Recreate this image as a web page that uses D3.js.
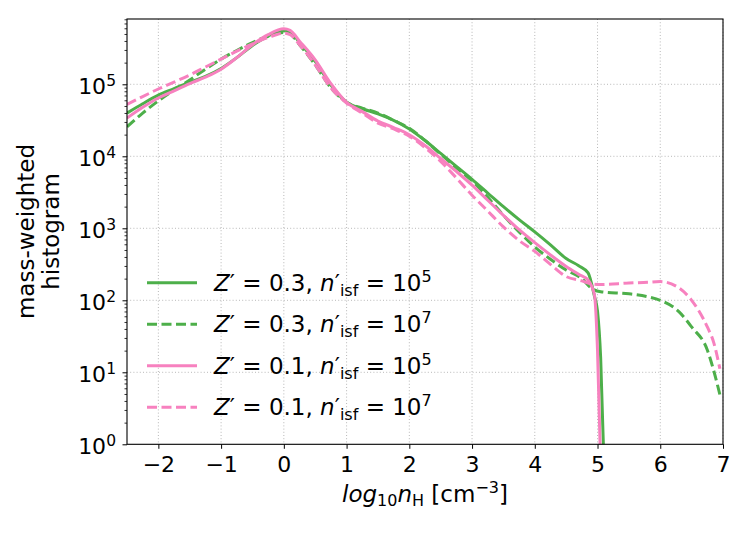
<!DOCTYPE html>
<html><head><meta charset="utf-8">
<script src="https://cdn.jsdelivr.net/npm/d3@7"></script>
<style>body{margin:0;background:#fff} text{font-family:"DejaVu Sans",sans-serif;fill:#000}</style>
</head><body><svg id="c" width="747" height="534"></svg>
<script>
// x values: log10 n_H [cm^-3]
const xSolid = [-2.5,-2.25,-2,-1.75,-1.5,-1.25,-1,-0.75,-0.5,-0.25,0,0.1,0.25,0.5,0.75,1,1.25,1.5,1.75,2,2.25,2.5,2.75,3,3.25,3.5,3.75,4,4.25,4.5,4.7,4.85,4.95,5.0,5.05,5.1];
const xDashed = [-2.5,-2.25,-2,-1.75,-1.5,-1.25,-1,-0.75,-0.5,-0.25,0,0.1,0.25,0.5,0.75,1,1.25,1.5,1.75,2,2.25,2.5,2.75,3,3.25,3.5,3.75,4,4.25,4.5,4.75,4.9,5.05,5.5,5.8,6,6.3,6.5,6.75,6.85,6.95];
// series values, stored as log10(mass-weighted histogram)
const z03_n5 = [4.60,4.73,4.85,4.94,5.03,5.11,5.22,5.37,5.54,5.67,5.745,5.73,5.58,5.32,4.99,4.75,4.66,4.59,4.50,4.38,4.22,4.04,3.86,3.68,3.49,3.30,3.12,2.95,2.77,2.58,2.48,2.38,2.06,1.85,1.2,-0.2];
const z03_n7 = [4.41,4.60,4.77,4.92,5.06,5.21,5.35,5.47,5.58,5.67,5.72,5.70,5.55,5.27,4.95,4.75,4.67,4.60,4.50,4.39,4.22,4.03,3.84,3.66,3.43,3.18,2.95,2.74,2.57,2.42,2.30,2.17,2.12,2.09,2.05,2.00,1.84,1.63,1.31,1.03,0.69];
const z01_n5 = [4.53,4.68,4.81,4.91,5.01,5.10,5.21,5.37,5.55,5.69,5.77,5.75,5.60,5.34,5.01,4.75,4.62,4.49,4.40,4.30,4.15,3.97,3.79,3.60,3.39,3.18,2.98,2.80,2.63,2.47,2.36,2.28,2.08,1.3,-0.3,-1.0];
const z01_n7 = [4.72,4.83,4.935,5.03,5.13,5.24,5.35,5.46,5.56,5.65,5.71,5.69,5.55,5.27,4.95,4.74,4.60,4.46,4.38,4.28,4.12,3.93,3.70,3.46,3.24,3.02,2.83,2.68,2.50,2.33,2.27,2.23,2.22,2.24,2.25,2.26,2.17,2.00,1.63,1.42,1.05];
const xTicks = [-2,-1,0,1,2,3,4,5,6,7];
const yTickExp = [0,1,2,3,4,5];
const legendZ = ["0.3","0.3","0.1","0.1"];
const legendN = ["5","7","5","7"];

const svg = d3.select("#c");
const L=127, R=723, T=19, B=444.3;
const FS=22, FL=23;
const x = d3.scaleLinear().domain([-2.5,7]).range([L,R]);
const y = d3.scaleLog().domain([1, Math.pow(10,5.907)]).range([B,T]);

// grid
const g = svg.append("g");
g.selectAll(".gx").data(xTicks).enter().append("line")
  .attr("x1",d=>x(d)).attr("x2",d=>x(d)).attr("y1",T).attr("y2",B)
  .attr("stroke","#b0b0b0").attr("stroke-width",0.9).attr("stroke-dasharray","1,2.2");
g.selectAll(".gy").data(yTickExp.filter(e=>e>0)).enter().append("line")
  .attr("x1",L).attr("x2",R).attr("y1",d=>y(Math.pow(10,d))).attr("y2",d=>y(Math.pow(10,d)))
  .attr("stroke","#b0b0b0").attr("stroke-width",0.9).attr("stroke-dasharray","1,2.2");

// clip
svg.append("clipPath").attr("id","clip").append("rect").attr("x",L).attr("y",T).attr("width",R-L).attr("height",B-T);

const series = [
  {xs:xSolid, v:z03_n5, color:"#4daf4a", dash:null},
  {xs:xDashed, v:z03_n7, color:"#4daf4a", dash:"10,4.5"},
  {xs:xSolid, v:z01_n5, color:"#f781bf", dash:null},
  {xs:xDashed, v:z01_n7, color:"#f781bf", dash:"10,4.5"}
];
const line = d3.line().x(d=>x(d[0])).y(d=>y(d[1])).curve(d3.curveMonotoneX);
const pl = svg.append("g").attr("clip-path","url(#clip)");
series.forEach(s=>{
  const pts = s.xs.map((xx,i)=>[xx, Math.pow(10,s.v[i])]);
  pl.append("path").attr("d",line(pts)).attr("fill","none").attr("stroke",s.color)
    .attr("stroke-width",3).attr("stroke-dasharray",s.dash).attr("stroke-linejoin","round");
});

// axes
const ax = svg.append("g").attr("transform",`translate(0,${B})`)
  .call(d3.axisBottom(x).tickValues(xTicks).tickSize(4.5).tickPadding(8).tickFormat(d=>d<0?"\u2212"+Math.abs(d):d));
ax.select(".domain").remove();
ax.selectAll("text").attr("font-size",FS).attr("font-family","DejaVu Sans").attr("fill","#000");
ax.selectAll("line").attr("stroke","#000").attr("stroke-width",1);

const ay = svg.append("g").attr("transform",`translate(${L},0)`)
  .call(d3.axisLeft(y).tickValues(yTickExp.map(e=>Math.pow(10,e))).tickSize(4.5).tickFormat(""));
ay.select(".domain").remove();
ay.selectAll("line").attr("stroke","#000").attr("stroke-width",1);
const minor=[];
for(let e=0;e<6;e++) for(let k=2;k<10;k++){const v=k*Math.pow(10,e); if(v<=Math.pow(10,5.907)) minor.push(v);}
const aym = svg.append("g").attr("transform",`translate(${L},0)`)
  .call(d3.axisLeft(y).tickValues(minor).tickSize(2.5).tickFormat(""));
aym.select(".domain").remove();
aym.selectAll("line").attr("stroke","#000").attr("stroke-width",0.8);

yTickExp.forEach(e=>{
  const t = svg.append("text").attr("x",116).attr("y",y(Math.pow(10,e))+10).attr("text-anchor","end").attr("font-size",FS);
  t.append("tspan").text("10");
  t.append("tspan").attr("font-size",15.5).attr("dy",-8.5).text(e);
});

// frame
svg.append("rect").attr("x",L).attr("y",T).attr("width",R-L).attr("height",B-T)
  .attr("fill","none").attr("stroke","#000").attr("stroke-width",1.1);

// legend
legendZ.forEach((z,i)=>{
  const yy = 282.7 + i*41.5;
  const s = series[i];
  svg.append("line").attr("x1",147).attr("x2",197).attr("y1",yy).attr("y2",yy)
    .attr("stroke",s.color).attr("stroke-width",3).attr("stroke-dasharray",s.dash);
  const t = svg.append("text").attr("x",214).attr("y",yy+8).attr("font-size",FL);
  t.append("tspan").attr("font-style","italic").text("Z");
  t.append("tspan").text("\u2032");
  t.append("tspan").text(" = "+z+",  ");
  t.append("tspan").attr("font-style","italic").text("n");
  t.append("tspan").text("\u2032");
  t.append("tspan").attr("font-size",16).attr("dy",5).text("isf");
  t.append("tspan").attr("dy",-5).text(" = 10");
  t.append("tspan").attr("font-size",16).attr("dy",-9).text(legendN[i]);
});

// x label
const xl = svg.append("text").attr("x",425).attr("y",502).attr("text-anchor","middle").attr("font-size",FL);
xl.append("tspan").attr("font-style","italic").text("log");
xl.append("tspan").attr("font-size",16).attr("dy",4).text("10");
xl.append("tspan").attr("font-style","italic").attr("dy",-4).text("n");
xl.append("tspan").attr("font-size",16).attr("dy",4).text("H");
xl.append("tspan").attr("dy",-4).text(" [cm");
xl.append("tspan").attr("font-size",16).attr("dy",-9).text("\u22123");
xl.append("tspan").attr("dy",9).text("]");

// y label
const yl = svg.append("text").attr("transform","translate(0,231.5) rotate(-90)").attr("text-anchor","middle").attr("font-size",FL);
yl.append("tspan").attr("x",0).attr("y",34).text("mass-weighted");
yl.append("tspan").attr("x",0).attr("y",59).text("histogram");
</script></body></html>
